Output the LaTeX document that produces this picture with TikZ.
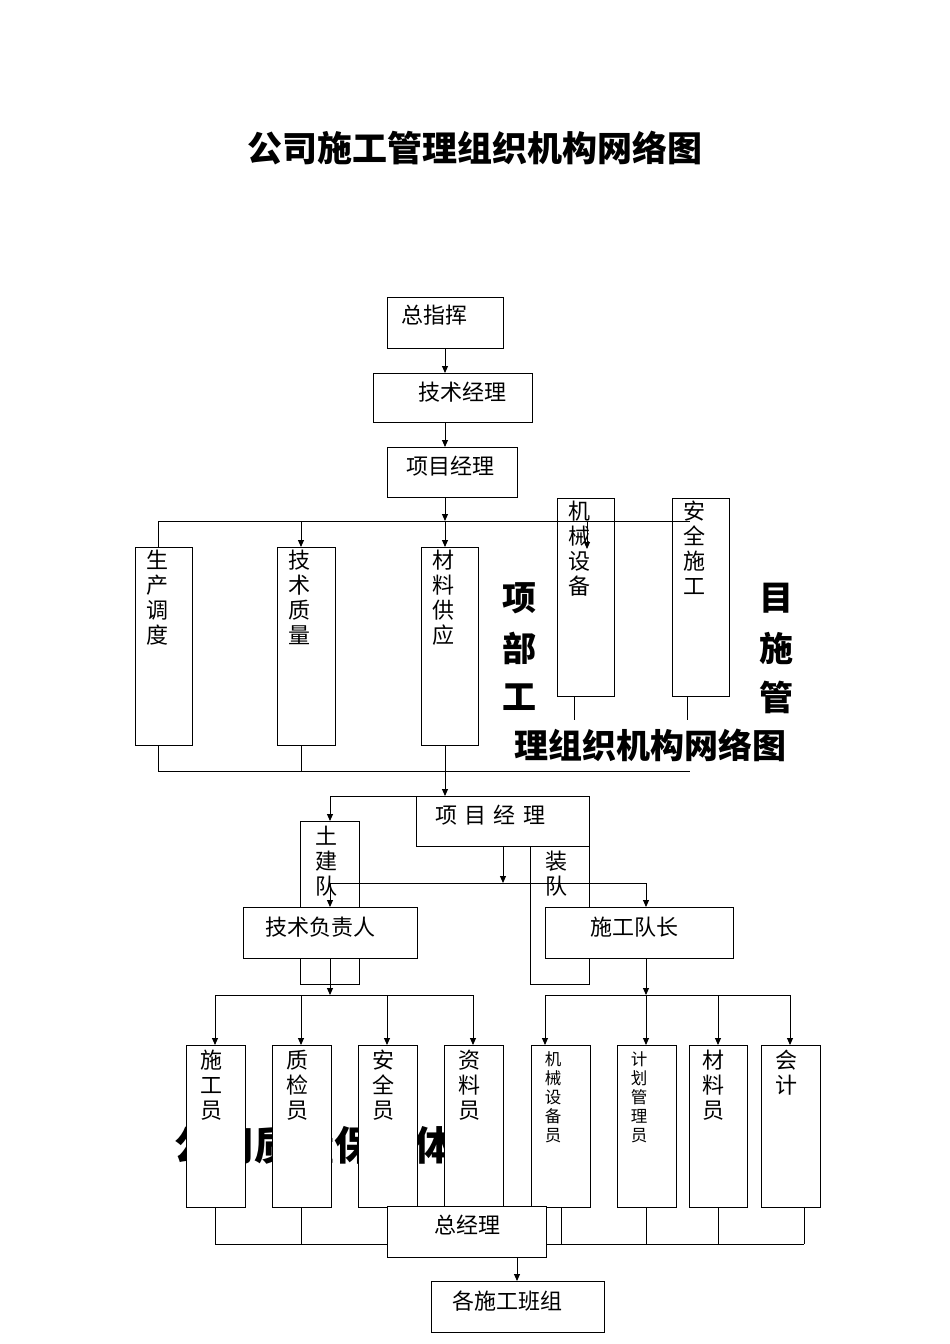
\documentclass[tikz,border=0pt]{standalone}
\usepackage{fontspec}
\setmainfont{Noto Sans CJK SC}
\usetikzlibrary{arrows.meta}
\begin{document}
\begin{tikzpicture}[x=1pt,y=-1pt,
  bx/.style={draw,fill=white,line width=0.9pt},
  ln/.style={line width=0.9pt},
  ar/.style={line width=0.9pt,-{Triangle[length=7pt,width=6pt]}},
  tx/.style={font=\fontsize{22}{25}\selectfont,inner sep=0pt,align=center},
  sm/.style={font=\fontsize{16.5}{19}\selectfont,inner sep=0pt,align=center},
  big/.style={font=\fontsize{34}{38}\selectfont\bfseries,inner sep=0pt}]
\useasboundingbox (0,0) rectangle (950,1344);
\node[font=\fontsize{35}{40}\selectfont\bfseries,inner sep=0pt] (title) at (475,148) {公司施工管理组织机构网络图};
% background hidden text
\node[font=\fontsize{40}{42}\selectfont\bfseries,inner sep=0pt,anchor=west] (bg) at (174,1145) {公司质量保证体系};
% top chain
\draw[bx] (387,297) rectangle (503,348); \node[tx,anchor=north west] (a) at (401,305) {总指挥};
\draw[bx] (373,373) rectangle (532,422); \node[tx] (b) at (462,392) {技术经理};
\draw[bx] (387,447) rectangle (517,497); \node[tx] (c) at (450,466) {项目经理};
\coordinate (aB) at (445,348); \coordinate (bT) at (445,373);
\coordinate (bB) at (445,422); \coordinate (cT) at (445,447);
\coordinate (cB) at (445,497);
\draw[ar] (aB) -- (bT); \draw[ar] (bB) -- (cT);
\coordinate (h1) at (445,521);
\draw[ar] (cB) -- (h1);
\draw[ln] (158,521) -- (690,521);
\draw[ln] (158,521) -- (158,547);
\draw[ar] (301,521) -- (301,547);
\draw[ar] (445,521) -- (445,547);
% second row boxes
\draw[bx] (135,547) rectangle (192,745);
\node[tx,anchor=north] (d1) at (157,550) {生\\产\\调\\度};
\draw[bx] (277,547) rectangle (335,745);
\node[tx,anchor=north] (d2) at (299,550) {技\\术\\质\\量};
\draw[bx] (421,547) rectangle (478,745);
\node[tx,anchor=north] (d3) at (443,550) {材\\料\\供\\应};
\draw[bx] (557,498) rectangle (614,696);
\node[tx,anchor=north] (d4) at (579,501) {机\\械\\设\\备};
\draw[bx] (672,498) rectangle (729,696);
\node[tx,anchor=north] (d5) at (694,501) {安\\全\\施\\工};
\draw[ln] (557,521) -- (690,521);
\draw[ar] (587,521) -- (587,549);
\draw[ln] (574,696) -- (574,720);
\draw[ln] (687,696) -- (687,720);
% big mid text
\begin{scope}[every node/.style={big}]
\node (m1) at (519,598) {项};
\node (m2) at (519,648) {部};
\node (m3) at (519,697) {工};
\node (m4) at (776,598) {目};
\node (m5) at (776,648) {施};
\node (m6) at (776,697) {管};
\node (m7) at (650,745) {理组织机构网络图};
\end{scope}
\draw[ln] (158,745) -- (158,771) -- (690,771);
\draw[ln] (301,745) -- (301,771);
\draw[ln] (445,745) -- (445,771);
\draw[ar] (445,771) -- (445,796);
% second level
\draw[bx] (300,821) rectangle (359,984);
\node[tx,anchor=north] (tj) at (326,826) {土\\建\\队};
\draw[bx] (530,821) rectangle (589,984);
\node[tx,anchor=north] (az) at (556,826) {安\\装\\队};
\draw[bx] (416,796) rectangle (589,846);
\node[tx] (pm) at (490,815) {项\,\,目\,\,经\,\,理};
\draw[ln] (416,796) -- (330,796);
\draw[ar] (330,796) -- (330,821);
\draw[ar] (503,846) -- (503,883);
\draw[ln] (330,883) -- (646,883);
\draw[ar] (330,883) -- (330,907);
\draw[ar] (646,883) -- (646,907);
\draw[bx] (243,907) rectangle (417,958);
\node[tx] (js) at (320,927) {技术负责人};
\draw[bx] (545,907) rectangle (733,958);
\node[tx] (sd) at (634,927) {施工队长};
\draw[ar] (330,958) -- (330,995);
\draw[ar] (646,958) -- (646,995);
\draw[ln] (215,995) -- (473,995);
\draw[ln] (545,995) -- (790,995);
\foreach \x in {215,301,387,473,545,646,718,790} \draw[ar] (\x,995) -- (\x,1045);
% bottom row lines
\draw[ln] (215,1244) -- (804,1244);
\foreach \x in {215,301,387,473,561,646,718,804} \draw[ln] (\x,1207) -- (\x,1244);
% bottom boxes
\draw[bx] (186,1045) rectangle (245,1207); \node[tx,anchor=north] (e1) at (211,1050) {施\\工\\员};
\draw[bx] (272,1045) rectangle (331,1207); \node[tx,anchor=north] (e2) at (297,1050) {质\\检\\员};
\draw[bx] (358,1045) rectangle (417,1207); \node[tx,anchor=north] (e3) at (383,1050) {安\\全\\员};
\draw[bx] (444,1045) rectangle (503,1207); \node[tx,anchor=north] (e4) at (469,1050) {资\\料\\员};
\draw[bx] (531,1045) rectangle (590,1207); \node[sm,anchor=north] (e5) at (553,1051) {机\\械\\设\\备\\员};
\draw[bx] (617,1045) rectangle (676,1207); \node[sm,anchor=north] (e6) at (639,1051) {计\\划\\管\\理\\员};
\draw[bx] (689,1045) rectangle (747,1207); \node[tx,anchor=north] (e7) at (713,1050) {材\\料\\员};
\draw[bx] (761,1045) rectangle (820,1207); \node[tx,anchor=north] (e8) at (786,1050) {会\\计};
\draw[bx] (387,1206) rectangle (546,1257); \node[tx] (zj) at (467,1225) {总经理};
\draw[ar] (517,1257) -- (517,1281);
\draw[bx] (431,1281) rectangle (604,1332); \node[tx] (bz) at (507,1301) {各施工班组};
\end{tikzpicture}
\end{document}
